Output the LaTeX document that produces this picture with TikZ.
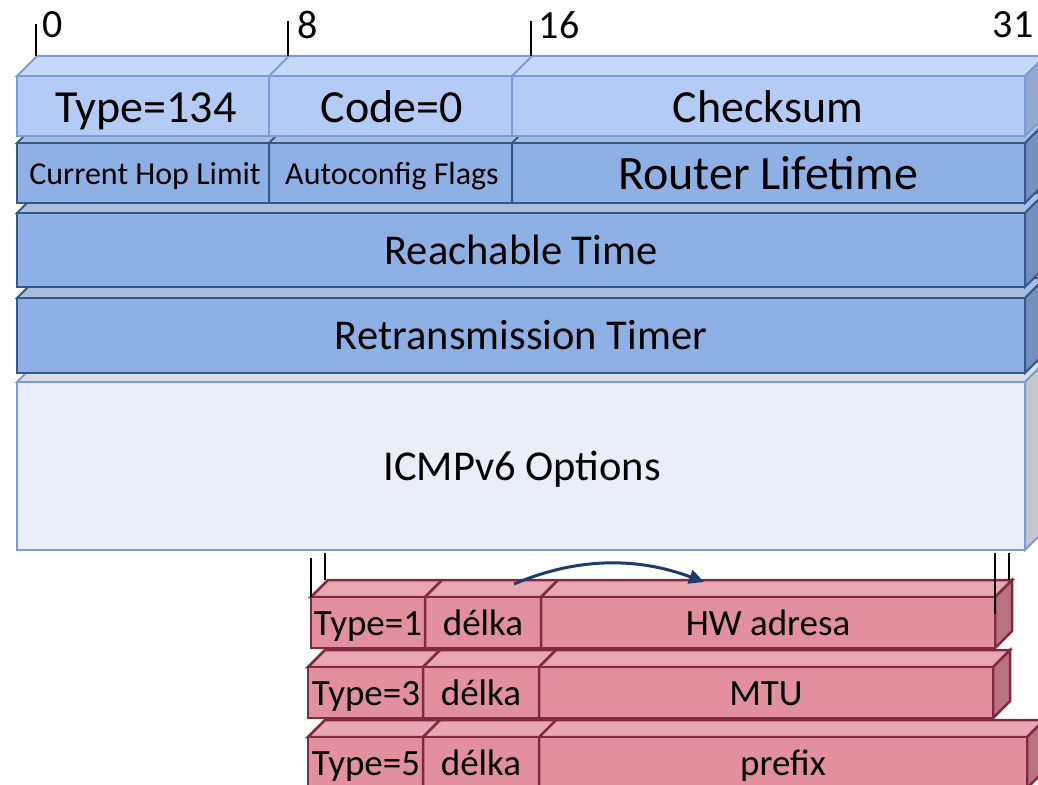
\documentclass[tikz,border=0pt]{standalone}
\usepackage{fontspec}
\setmainfont{Carlito}
\usetikzlibrary{arrows.meta}
\definecolor{rOneFront}{HTML}{B3CBF5}
\definecolor{rOneTop}{HTML}{C6D9FA}
\definecolor{rOneSide}{HTML}{92A8D0}
\definecolor{rOneLine}{HTML}{7C9CD8}
\definecolor{rFront}{HTML}{8FB0E4}
\definecolor{rTop}{HTML}{A8BDDF}
\definecolor{rSide}{HTML}{7490BD}
\definecolor{rLine}{HTML}{32598A}
\definecolor{oFront}{HTML}{E9EEF9}
\definecolor{oTop}{HTML}{D8DDE6}
\definecolor{oSide}{HTML}{C3C7CF}
\definecolor{pFront}{HTML}{E2909D}
\definecolor{pTop}{HTML}{E9A7B2}
\definecolor{pSide}{HTML}{B8737F}
\definecolor{pLine}{HTML}{7F2A41}
\definecolor{arrowBlue}{HTML}{1F3B6B}
% #1 x1, #2 y1, #3 x2, #4 y2, #5 depth, #6 front, #7 top, #8 side, #9 line colour
\newcommand\boxthree[9]{%
  \filldraw[fill=#7,draw=#9] (#1,#2) -- ({#1+#5},{#2-#5}) -- ({#3+#5},{#2-#5}) -- (#3,#2) -- cycle;
  \filldraw[fill=#8,draw=#9] (#3,#2) -- ({#3+#5},{#2-#5}) -- ({#3+#5},{#4-#5}) -- (#3,#4) -- cycle;
  \filldraw[fill=#6,draw=#9] (#1,#2) rectangle (#3,#4);
}
% #1 x, #2 y top, #3 y bottom, #4 depth, #5 line colour
\newcommand\boxdiv[5]{%
  \draw[#5] (#1,#3) -- (#1,#2) -- ({#1+#4},{#2-#4});
}
\tikzset{
  lbl/.style={anchor=base, inner sep=0pt, text=black},
  big/.style={lbl, font=\fontsize{46}{46}\selectfont},
  bigger/.style={lbl, font=\fontsize{48}{48}\selectfont},
  mid/.style={lbl, font=\fontsize{42.5}{42.5}\selectfont},
  small/.style={lbl, font=\fontsize{32}{32}\selectfont},
  pink/.style={lbl, font=\fontsize{37}{37}\selectfont},
  bitnum/.style={inner sep=0pt, text=black, font=\fontsize{40}{40}\selectfont},
  tick/.style={draw=black, line width=2pt},
}
\begin{document}
\begin{tikzpicture}[x=1pt, y=-1pt]
\useasboundingbox (0,0) rectangle (1038,784);
\clip (0,0) rectangle (1038,784);

% ---------- header boxes (drawn bottom-up) ----------
\begin{scope}[line width=2pt, line join=miter]
\boxthree{17}{382}{1025}{550}{20}{oFront}{oTop}{oSide}{rOneLine}
\boxthree{17}{298}{1025}{373}{20}{rFront}{rTop}{rSide}{rLine}
\boxthree{17}{213}{1025}{287}{20}{rFront}{rTop}{rSide}{rLine}
\boxthree{17}{143}{1025}{203}{20}{rFront}{rTop}{rSide}{rLine}
\boxdiv{269}{143}{203}{20}{rLine}
\boxdiv{512}{143}{203}{20}{rLine}
\boxthree{17}{76}{1025}{136}{20}{rOneFront}{rOneTop}{rOneSide}{rOneLine}
\boxdiv{269}{76}{136}{20}{rOneLine}
\boxdiv{512}{76}{136}{20}{rOneLine}
\end{scope}

% ---------- option boxes ----------
\begin{scope}[line width=2.5pt, line join=miter]
\boxthree{311}{597}{995}{648}{17}{pFront}{pTop}{pSide}{pLine}
\boxdiv{425}{597}{648}{17}{pLine}
\boxdiv{541}{597}{648}{17}{pLine}
\boxthree{308}{667}{993}{718}{17}{pFront}{pTop}{pSide}{pLine}
\boxdiv{423}{667}{718}{17}{pLine}
\boxdiv{539}{667}{718}{17}{pLine}
\boxthree{308}{737}{1027}{788}{17}{pFront}{pTop}{pSide}{pLine}
\boxdiv{423}{737}{788}{17}{pLine}
\boxdiv{539}{737}{788}{17}{pLine}
\end{scope}

% ---------- bit ticks ----------
\draw[tick] (36,24) -- (36,56);
\draw[tick] (288,21) -- (288,56);
\draw[tick] (531,21) -- (531,56);
\node[bitnum] (b0) at (53,25) {0};
\node[bitnum] (b8) at (308,25) {8};
\node[bitnum] (b16) at (559,25) {16};
\node[bitnum] (b31) at (1013,25) {31};

% ---------- mapping ticks ----------
\draw[tick] (311,558) -- (311,597);
\draw[tick] (325,553) -- (325,580);
\draw[tick] (995,553) -- (995,614);
\draw[tick] (1009,553) -- (1009,580);

% ---------- labels ----------
\node[big] (type) at (146,122) {Type=134};
\node[big] (code) at (392,122) {Code=0};
\node[big] (csum) at (768,122) {Checksum};
\node[small] (hop) at (145,184) {Current Hop Limit};
\node[small] (flags) at (392,184) {Autoconfig Flags};
\node[bigger] (life) at (768,189) {Router Lifetime};
\node[mid] (reach) at (521,264) {Reachable Time};
\node[mid] (retr) at (521,349) {Retransmission Timer};
\node[mid] (opts) at (522,480) {ICMPv6 Options};

\node[pink] (t1) at (368,635) {Type=1};
\node[pink] (l1) at (483,635) {délka};
\node[pink] (hw) at (768,635) {HW adresa};
\node[pink] (t3) at (366,705) {Type=3};
\node[pink] (l3) at (481,705) {délka};
\node[pink] (mtu) at (766,705) {MTU};
\node[pink] (t5) at (366,775) {Type=5};
\node[pink] (l5) at (481,775) {délka};
\node[pink] (pfx) at (783,775) {prefix};

% ---------- arrow ----------
\coordinate (arrA) at (514,584);
\coordinate (arrB) at (704,582);
\draw[arrowBlue, line width=3pt, -{Triangle[length=15pt,width=14pt]}]
  (arrA) .. controls (580,556) and (640,558) .. (arrB);
\end{tikzpicture}
\end{document}
